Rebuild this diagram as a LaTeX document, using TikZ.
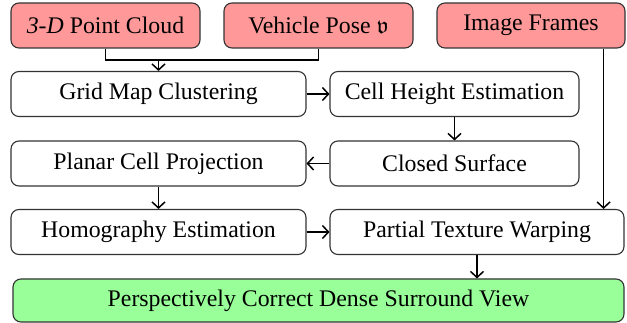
\documentclass[tikz,border=0pt]{standalone}
\usepackage{fontspec}
\usepackage{amssymb}
\setmainfont{Liberation Serif}
\usetikzlibrary{arrows.meta,calc}
\definecolor{inred}{HTML}{FF9999}
\definecolor{outgreen}{HTML}{99FF99}
\definecolor{boxline}{HTML}{333333}
\begin{document}
\begin{tikzpicture}[x=1pt,y=-1pt,
  box/.style={draw=boxline,line width=1.1pt,rounded corners=8pt,fill=white,
    minimum width=#1,minimum height=45pt,inner sep=0pt,
    font=\rmfamily\fontsize{23.8}{28}\selectfont},
  inbox/.style={box=#1,fill=inred},
  outbox/.style={box=#1,fill=outgreen},
  flow/.style={line width=1.7pt,-{Straight Barb[length=6pt,width=13pt,line width=1.5pt]}},
  link/.style={line width=1.7pt}]
\useasboundingbox (0,0) rectangle (627,323);
\node[inbox=189pt] (pc) at (105.5,25.5) {\textit{3-D} Point Cloud};
\node[inbox=189pt] (pose) at (318.5,25.5) {Vehicle Pose $\mathfrak{v}$};
\node[inbox=188pt] (img) at (531,25.5) {Image Frames};
\node[box=295pt] (grid) at (158.5,94) {Grid Map Clustering};
\node[box=249pt] (cell) at (454.5,94) {Cell Height Estimation};
\node[box=295pt] (planar) at (158.5,163.5) {Planar Cell Projection};
\node[box=249pt] (closed) at (454.5,163.5) {Closed Surface};
\node[box=295pt] (homo) at (158.5,232) {Homography Estimation};
\node[box=294pt] (ptw) at (477,232) {Partial Texture Warping};
\node[outbox=611pt,minimum height=43pt] (final) at (318.5,300.5) {Perspectively Correct Dense Surround View};
\coordinate (j) at (158.5,60);
\coordinate (imgout) at ([xshift=-22pt]img.south east);
\draw[link] (pc.south) |- (j) -| (pose.south);
\draw[flow] (j) -- (grid.north);
\draw[flow] (grid.east) -- (cell.west);
\draw[flow] (cell.south) -- (closed.north);
\draw[flow] (closed.west) -- (planar.east);
\draw[flow] (planar.south) -- (homo.north);
\draw[flow] (homo.east) -- (ptw.west);
\draw[flow] (imgout) -- (imgout |- ptw.north);
\draw[flow] (ptw.south) -- (ptw.south |- final.north);
\end{tikzpicture}
\end{document}
